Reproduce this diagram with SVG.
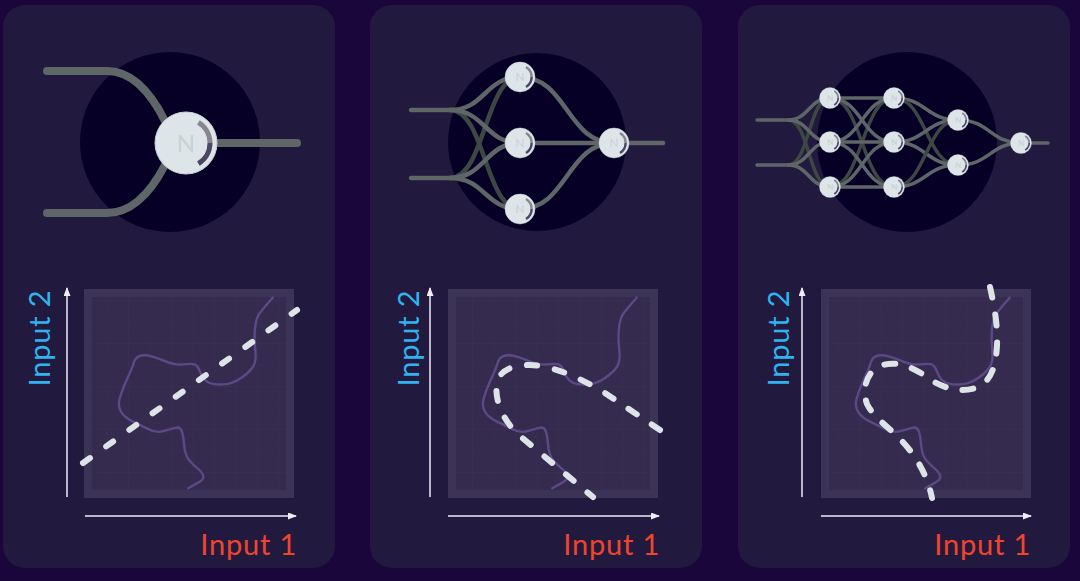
<svg xmlns="http://www.w3.org/2000/svg" width="1080" height="581" viewBox="0 0 1080 581">
<style>
.panel{fill:#221a3e}
.hole{fill:#060026}
.w1{fill:none;stroke:#5e6667;stroke-width:8;stroke-linecap:round}
.w2{fill:none;stroke:#5e6667;stroke-width:4.5;stroke-linecap:round}
.w2d{fill:none;stroke:#3e4744;stroke-width:4.5;stroke-linecap:round}
.w3{fill:none;stroke:#5e6667;stroke-width:3.5;stroke-linecap:round}
.w3d{fill:none;stroke:#3e4744;stroke-width:3.5;stroke-linecap:round}
.nbody{fill:#dde5e8;stroke:#c9d2d6;stroke-width:1}
.nhi{fill:none;stroke:#85868f;stroke-width:5}
.nlo{fill:none;stroke:#4a4664;stroke-width:5}
.nlabel{font-family:Lato,"Liberation Sans",sans-serif;font-size:24px;fill:#c8d1d5;text-anchor:middle}
.plotout{fill:#3c3457}
.truth{fill:none;stroke:#5c4986;stroke-width:2.4;stroke-linejoin:round;stroke-linecap:round}
.axis{stroke:#eeeef4;stroke-width:1.5;fill:none}
.dash{fill:none;stroke:#dde3e6;stroke-width:6;stroke-linecap:round}
.lab2{font-family:Lato,"Liberation Sans",sans-serif;font-size:29px;fill:#2fb4f1;letter-spacing:0.8px;text-anchor:middle}
.lab1{font-family:Lato,"Liberation Sans",sans-serif;font-size:29px;fill:#f0452c;letter-spacing:0.8px;text-anchor:end}
</style>
<defs>
<marker id="arr" markerWidth="9" markerHeight="7" refX="8" refY="3.5" orient="auto" markerUnits="userSpaceOnUse">
<path d="M0,0 L9,3.5 L0,7 z" fill="#eeeef4"/>
</marker>
<pattern id="grid" width="21.5" height="21.5" patternUnits="userSpaceOnUse">
<rect width="21.5" height="21.5" fill="#342b4e"/>
<path d="M21.5,0 V21.5 M0,21.5 H21.5" stroke="#393052" stroke-width="1"/>
</pattern>
<path id="truthPath" class="truth" d="M188.7,8.7 Q179.3,19.3 175.6,24.3 Q172,29.3 171,39.3 Q170,49.3 171.3,61 Q172.7,72.7 168.5,78.5 Q164.3,84.3 156.8,89.3 Q149.3,94.3 142.6,95.1 Q136,96 130.1,95.1 Q124.3,94.3 121,91 Q117.7,87.7 116,82.7 Q114.3,77.7 111.8,76 Q109.3,74.3 102.6,75.1 Q96,76 91,75.1 Q86,74.3 81,72.1 Q76,70 71,68.3 Q66,66.7 61.8,66.3 Q57.7,66 54.3,67.6 Q51,69.3 49.8,73.5 Q48.7,77.7 45.7,84.3 Q42.7,91 40.2,96.8 Q37.7,102.7 35.7,109.3 Q33.7,116 36.5,121.8 Q39.3,127.7 47.6,131.8 Q56,136 64.3,140.1 Q72.7,144.3 79.3,142.1 Q86,140 91,138.8 Q96,137.7 97.6,141.8 Q99.3,146 100.1,156 Q101,166 105.1,171 Q109.3,176 114.3,180.1 Q119.3,184.3 119.3,187.6 Q119.3,191 115.1,193.1 Q111,195.3 104.3,199.3"/>
</defs>
<rect width="1080" height="581" fill="#1b063c"/>

<g id="panel1">
<rect class="panel" x="3" y="5" width="332" height="563" rx="22"/>
<circle class="hole" cx="170" cy="142" r="90"/>
</g>
<g id="panel2">
<rect class="panel" x="370" y="5" width="332" height="563" rx="22"/>
<circle class="hole" cx="537" cy="142" r="89"/>
</g>
<g id="panel3">
<rect class="panel" x="738" y="5" width="332" height="563" rx="22"/>
<circle class="hole" cx="907" cy="142" r="90"/>
</g>

<g id="connectors">
<path class="w1" d="M47,71 H107 Q140,71 165,121 L186,143"/>
<path class="w1" d="M47,213 H107 Q140,213 165,165 L186,143"/>
<path class="w1" d="M186,143 H297"/>
<path class="w2" d="M411,110 H450"/>
<path class="w2" d="M411,178 H450"/>
<path class="w2d" d="M450,110 C485,110 485,209 520,209"/>
<path class="w2d" d="M450,178 C485,178 485,77 520,77"/>
<path class="w2" d="M450,110 C485,110 485,77 520,77"/>
<path class="w2" d="M450,110 C485,110 485,143 520,143"/>
<path class="w2" d="M450,178 C485,178 485,143 520,143"/>
<path class="w2" d="M450,178 C485,178 485,209 520,209"/>
<path class="w2" d="M520,77 C567,77 567,143 614,143"/>
<path class="w2" d="M520,143 H614"/>
<path class="w2" d="M520,209 C567,209 567,143 614,143"/>
<path class="w2" d="M614,143 H663"/>
<path class="w3" d="M757,120 H788"/>
<path class="w3" d="M757,165 H788"/>
<path class="w3d" d="M788,120 C809,120 809,187 830,187"/>
<path class="w3d" d="M788,165 C809,165 809,98 830,98"/>
<path class="w3" d="M788,120 C809,120 809,98 830,98"/>
<path class="w3" d="M788,120 C809,120 809,142 830,142"/>
<path class="w3" d="M788,165 C809,165 809,142 830,142"/>
<path class="w3" d="M788,165 C809,165 809,187 830,187"/>
<path class="w3d" d="M830,98 C862,98 862,187 894,187"/>
<path class="w3d" d="M830,187 C862,187 862,98 894,98"/>
<path class="w3" d="M830,98 H894"/>
<path class="w3" d="M830,98 C862,98 862,142 894,142"/>
<path class="w3" d="M830,142 C862,142 862,98 894,98"/>
<path class="w3" d="M830,142 H894"/>
<path class="w3" d="M830,142 C862,142 862,187 894,187"/>
<path class="w3" d="M830,187 C862,187 862,142 894,142"/>
<path class="w3" d="M830,187 H894"/>
<path class="w3" d="M894,98 C926,98 926,120 958,120"/>
<path class="w3d" d="M894,98 C926,98 926,165 958,165"/>
<path class="w3" d="M894,142 C926,142 926,120 958,120"/>
<path class="w3" d="M894,142 C926,142 926,165 958,165"/>
<path class="w3d" d="M894,187 C926,187 926,120 958,120"/>
<path class="w3" d="M894,187 C926,187 926,165 958,165"/>
<path class="w3" d="M958,120 C990,120 990,143 1021,143"/>
<path class="w3" d="M958,165 C990,165 990,143 1021,143"/>
<path class="w3" d="M1021,143 H1048"/>
</g>

<g id="p1-neuron" transform="translate(186,143)">
<circle class="nbody" r="31"/><path class="nhi" d="M12.4,-20.6 A24,24 0 0 1 24,0"/><path class="nlo" d="M24,0 A24,24 0 0 1 12.4,20.6"/><text class="nlabel" y="8.5">N</text>
</g>
<g id="p2-h1" transform="translate(520,77) scale(0.484)">
<circle class="nbody" r="31"/><path class="nhi" d="M12.4,-20.6 A24,24 0 0 1 24,0"/><path class="nlo" d="M24,0 A24,24 0 0 1 12.4,20.6"/><text class="nlabel" y="8.5">N</text>
</g>
<g id="p2-h2" transform="translate(520,143) scale(0.484)">
<circle class="nbody" r="31"/><path class="nhi" d="M12.4,-20.6 A24,24 0 0 1 24,0"/><path class="nlo" d="M24,0 A24,24 0 0 1 12.4,20.6"/><text class="nlabel" y="8.5">N</text>
</g>
<g id="p2-h3" transform="translate(520,209) scale(0.484)">
<circle class="nbody" r="31"/><path class="nhi" d="M12.4,-20.6 A24,24 0 0 1 24,0"/><path class="nlo" d="M24,0 A24,24 0 0 1 12.4,20.6"/><text class="nlabel" y="8.5">N</text>
</g>
<g id="p2-out" transform="translate(614,143) scale(0.484)">
<circle class="nbody" r="31"/><path class="nhi" d="M12.4,-20.6 A24,24 0 0 1 24,0"/><path class="nlo" d="M24,0 A24,24 0 0 1 12.4,20.6"/><text class="nlabel" y="8.5">N</text>
</g>
<g id="p3-a1" transform="translate(830,98) scale(0.34)">
<circle class="nbody" r="31"/><path class="nhi" d="M12.4,-20.6 A24,24 0 0 1 24,0"/><path class="nlo" d="M24,0 A24,24 0 0 1 12.4,20.6"/><text class="nlabel" y="8.5">N</text>
</g>
<g id="p3-a2" transform="translate(830,142) scale(0.34)">
<circle class="nbody" r="31"/><path class="nhi" d="M12.4,-20.6 A24,24 0 0 1 24,0"/><path class="nlo" d="M24,0 A24,24 0 0 1 12.4,20.6"/><text class="nlabel" y="8.5">N</text>
</g>
<g id="p3-a3" transform="translate(830,187) scale(0.34)">
<circle class="nbody" r="31"/><path class="nhi" d="M12.4,-20.6 A24,24 0 0 1 24,0"/><path class="nlo" d="M24,0 A24,24 0 0 1 12.4,20.6"/><text class="nlabel" y="8.5">N</text>
</g>
<g id="p3-b1" transform="translate(894,98) scale(0.34)">
<circle class="nbody" r="31"/><path class="nhi" d="M12.4,-20.6 A24,24 0 0 1 24,0"/><path class="nlo" d="M24,0 A24,24 0 0 1 12.4,20.6"/><text class="nlabel" y="8.5">N</text>
</g>
<g id="p3-b2" transform="translate(894,142) scale(0.34)">
<circle class="nbody" r="31"/><path class="nhi" d="M12.4,-20.6 A24,24 0 0 1 24,0"/><path class="nlo" d="M24,0 A24,24 0 0 1 12.4,20.6"/><text class="nlabel" y="8.5">N</text>
</g>
<g id="p3-b3" transform="translate(894,187) scale(0.34)">
<circle class="nbody" r="31"/><path class="nhi" d="M12.4,-20.6 A24,24 0 0 1 24,0"/><path class="nlo" d="M24,0 A24,24 0 0 1 12.4,20.6"/><text class="nlabel" y="8.5">N</text>
</g>
<g id="p3-c1" transform="translate(958,120) scale(0.34)">
<circle class="nbody" r="31"/><path class="nhi" d="M12.4,-20.6 A24,24 0 0 1 24,0"/><path class="nlo" d="M24,0 A24,24 0 0 1 12.4,20.6"/><text class="nlabel" y="8.5">N</text>
</g>
<g id="p3-c2" transform="translate(958,165) scale(0.34)">
<circle class="nbody" r="31"/><path class="nhi" d="M12.4,-20.6 A24,24 0 0 1 24,0"/><path class="nlo" d="M24,0 A24,24 0 0 1 12.4,20.6"/><text class="nlabel" y="8.5">N</text>
</g>
<g id="p3-out" transform="translate(1021,143) scale(0.34)">
<circle class="nbody" r="31"/><path class="nhi" d="M12.4,-20.6 A24,24 0 0 1 24,0"/><path class="nlo" d="M24,0 A24,24 0 0 1 12.4,20.6"/><text class="nlabel" y="8.5">N</text>
</g>

<g id="plot1">
<rect class="plotout" x="84" y="289" width="210" height="209"/>
<rect x="92" y="297" width="194" height="193" fill="url(#grid)"/>
<use href="#truthPath" transform="translate(84,289)"/>
<path class="dash" d="M83,463 L297,310" stroke-dasharray="8.5 20"/>
<line class="axis" x1="67" y1="497" x2="67" y2="288" marker-end="url(#arr)"/>
<line class="axis" x1="85" y1="516" x2="296" y2="516" marker-end="url(#arr)"/>
<text class="lab2" transform="translate(50,338) rotate(-90)">Input 2</text>
<text class="lab1" x="297" y="555">Input 1</text>
</g>
<g id="plot2">
<rect class="plotout" x="448" y="289" width="210" height="209"/>
<rect x="456" y="297" width="194" height="193" fill="url(#grid)"/>
<use href="#truthPath" transform="translate(448,289)"/>
<path class="dash" d="M660,430 L605,393 C580,378 555,366 530,365 C512,365 500,370 497,383 C494,400 503,421 520,436 L593,497" stroke-dasharray="10 18"/>
<line class="axis" x1="430" y1="497" x2="430" y2="288" marker-end="url(#arr)"/>
<line class="axis" x1="448" y1="516" x2="659" y2="516" marker-end="url(#arr)"/>
<text class="lab2" transform="translate(419,338) rotate(-90)">Input 2</text>
<text class="lab1" x="660" y="555">Input 1</text>
</g>
<g id="plot3">
<rect class="plotout" x="821" y="289" width="210" height="209"/>
<rect x="829" y="297" width="194" height="193" fill="url(#grid)"/>
<use href="#truthPath" transform="translate(821,289)"/>
<path class="dash" d="M990,287 C994,305 998,325 997,345 C996,365 992,380 978,387 C962,394 942,388 928,378 C912,366 895,360 880,366 C866,372 862,390 867,404 C874,418 890,428 902,441 C918,458 928,478 932,498" stroke-dasharray="11 17"/>
<line class="axis" x1="802" y1="497" x2="802" y2="288" marker-end="url(#arr)"/>
<line class="axis" x1="821" y1="516" x2="1031" y2="516" marker-end="url(#arr)"/>
<text class="lab2" transform="translate(789,338) rotate(-90)">Input 2</text>
<text class="lab1" x="1031" y="555">Input 1</text>
</g>
</svg>
